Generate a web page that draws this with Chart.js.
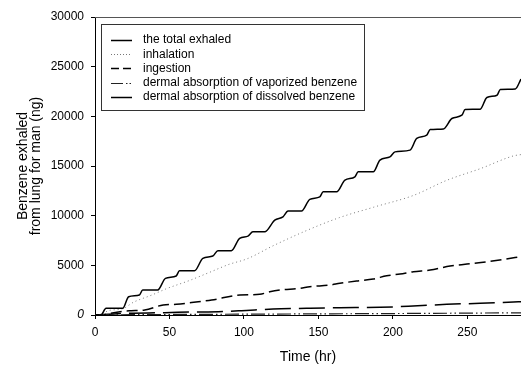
<!DOCTYPE html>
<html>
<head>
<meta charset="utf-8">
<script src="https://cdn.jsdelivr.net/npm/chart.js@4"></script>
<style>
  html, body { margin: 0; padding: 0; background: #fff; }
  #wrap { width: 521px; height: 367px; position: relative; }
</style>
</head>
<body>
<div id="wrap"><canvas id="benzeneChart"></canvas></div>
<script>
// Series data (time in hr, benzene in ng)
const totalTime = [0, 4, 7.4, 18.6, 22.6, 29.8, 32, 42.1, 47.3, 54.5, 56.7, 66.8, 72.4, 79.1, 82.5, 91.5, 97.1, 102.7, 106, 113.9, 120.7, 126.2, 129.6, 138.6, 144.2, 150.9, 153.2, 162.2, 167.8, 174.5, 176.7, 186.8, 191.3, 198, 201.4, 211.5, 216, 222.7, 225, 233.9, 239.6, 246.3, 248.5, 258.6, 263.1, 269.9, 272.1, 282.2, 286];
const totalExhaled = [0, 0, 674, 674, 1840, 2011, 2514, 2514, 3690, 3922, 4455, 4455, 5702, 5934, 6467, 6467, 7714, 7945, 8377, 8377, 9554, 9886, 10459, 10459, 11636, 11897, 12400, 12400, 13577, 13909, 14412, 14412, 15588, 15920, 16423, 16600, 17770, 18100, 18676, 18736, 19782, 20114, 20687, 20717, 21894, 22125, 22698, 22759, 23750];

const inhalationTime = [0, 4, 9, 18, 26, 38, 48, 63, 77, 90, 102, 120, 142, 164, 187, 214, 236, 259, 281, 286];
const inhalation = [0, 0, 450, 600, 1300, 2000, 2650, 3450, 4300, 5100, 5650, 7000, 8500, 9800, 10850, 12050, 13550, 14750, 16020, 16150];

const ingestionTime = [0, 5, 8, 20, 24.4, 33.4, 45.8, 54.7, 69.3, 78.3, 97.3, 110.6, 117.3, 124, 137.5, 144.2, 157.7, 164.4, 175.6, 186.8, 195.8, 204.8, 213.7, 225, 238.4, 249.7, 263.1, 274.3, 286];
const ingestion = [0, 0, 100, 400, 432, 503, 1006, 1076, 1338, 1509, 2011, 2082, 2343, 2514, 2685, 2846, 3017, 3188, 3420, 3620, 3952, 4123, 4355, 4526, 4928, 5129, 5360, 5602, 5880];

const vaporizedTime = [0, 24, 48, 96, 144, 192, 240, 286];
const dermalVaporized = [0, 30, 50, 80, 110, 140, 180, 220];

const dissolvedTime = [0, 8.7, 19.9, 46.8, 64.8, 82.8, 98.5, 119.5, 142, 164.4, 191.3, 213.5, 236.2, 258.6, 281, 286];
const dermalDissolved = [0, 70, 171, 231, 302, 332, 432, 603, 674, 734, 774, 905, 1076, 1177, 1307, 1330];

const seriesLabels = [
  'the total exhaled',
  'inhalation',
  'ingestion',
  'dermal absorption of vaporized benzene',
  'dermal absorption of dissolved benzene'
];

const xTicksStep = 50;
const yTicksStep = 5000;

const FONT = '"Liberation Sans", Arial, Helvetica, sans-serif';

function toPoints(xs, ys) {
  return xs.map((x, i) => ({ x, y: ys[i] }));
}

// Legend drawn inside the plot, with a frame
const boxedLegend = {
  id: 'boxedLegend',
  afterDraw(chart) {
    const ctx = chart.ctx;
    const area = chart.chartArea;
    ctx.save();

    // top frame line
    ctx.strokeStyle = '#555';
    ctx.lineWidth = 1;
    ctx.beginPath();
    ctx.moveTo(area.left, Math.round(area.top) + 0.5);
    ctx.lineTo(area.right, Math.round(area.top) + 0.5);
    ctx.stroke();

    // legend box
    ctx.strokeStyle = '#333';
    ctx.strokeRect(101.5, 24.5, 263, 86);

    ctx.font = '12px ' + FONT;
    ctx.textBaseline = 'middle';
    ctx.fillStyle = '#000';
    chart.data.datasets.forEach((ds, i) => {
      const y = 40 + i * 14.2;
      ctx.save();
      ctx.strokeStyle = ds.borderColor;
      ctx.lineWidth = ds.borderWidth;
      ctx.setLineDash(ds.legendDash || ds.borderDash || []);
      ctx.beginPath();
      ctx.moveTo(111, Math.round(y) + 0.5);
      ctx.lineTo(132, Math.round(y) + 0.5);
      ctx.stroke();
      ctx.restore();
      ctx.fillText(ds.label, 143, y);
    });
    ctx.restore();
  }
};

// Render chart
const ctx = document.getElementById('benzeneChart');

new Chart(ctx, {
  type: 'line',
  data: {
    datasets: [
      {
        label: seriesLabels[0],
        data: toPoints(totalTime, totalExhaled),
        borderColor: '#000',
        borderWidth: 1.5,
        cubicInterpolationMode: 'monotone'
      },
      {
        label: seriesLabels[1],
        data: toPoints(inhalationTime, inhalation),
        borderColor: '#777',
        borderWidth: 1,
        borderDash: [1, 3],
        legendDash: [1, 2],
        cubicInterpolationMode: 'monotone'
      },
      {
        label: seriesLabels[2],
        data: toPoints(ingestionTime, ingestion),
        borderColor: '#000',
        borderWidth: 1.5,
        borderDash: [11, 5],
        legendDash: [8, 4],
        cubicInterpolationMode: 'monotone'
      },
      {
        label: seriesLabels[3],
        data: toPoints(vaporizedTime, dermalVaporized),
        borderColor: '#222',
        borderWidth: 1.2,
        borderDash: [14, 3, 1.5, 3, 1.5, 3],
        legendDash: [12, 3, 1.5, 2, 1.5, 3],
        cubicInterpolationMode: 'monotone'
      },
      {
        label: seriesLabels[4],
        data: toPoints(dissolvedTime, dermalDissolved),
        borderColor: '#000',
        borderWidth: 1.5,
        borderDash: [26, 8],
        legendDash: [],
        cubicInterpolationMode: 'monotone'
      }
    ]
  },
  options: {
    responsive: true,
    maintainAspectRatio: false,
    animation: false,
    layout: { padding: { top: 17, right: 0, left: 0, bottom: 0 } },
    elements: { point: { radius: 0 } },
    plugins: {
      legend: { display: false },
      tooltip: { enabled: false }
    },
    scales: {
      x: {
        type: 'linear',
        min: 0,
        max: 286,
        afterFit(scale) { scale.height = 52; },
        grid: { drawOnChartArea: false, drawTicks: true, tickLength: 4, color: '#000' },
        border: { display: true, color: '#000', width: 1 },
        ticks: {
          stepSize: xTicksStep,
          includeBounds: false,
          padding: 6,
          maxRotation: 0,
          color: '#000',
          font: { size: 12, family: FONT },
          callback: (v) => String(v)
        },
        title: {
          display: true,
          text: 'Time (hr)',
          color: '#000',
          font: { size: 14, family: FONT },
          padding: { top: 0, bottom: 1 }
        }
      },
      y: {
        min: 0,
        max: 30000,
        afterFit(scale) { scale.width = 95; },
        grid: { drawOnChartArea: false, drawTicks: true, tickLength: 4, color: '#000' },
        border: { display: true, color: '#000', width: 1 },
        ticks: {
          stepSize: yTicksStep,
          padding: 7,
          color: '#000',
          callback: (v) => String(v),
          font: (c) => ({
            size: 12,
            family: FONT,
            style: c.tick && c.tick.value === 0 ? 'italic' : 'normal'
          })
        },
        title: {
          display: true,
          text: ['Benzene exhaled', 'from lung for man (ng)'],
          color: '#000',
          font: { size: 14, family: FONT, lineHeight: 0.9 },
          padding: { top: 17, bottom: 0 }
        }
      }
    }
  },
  plugins: [boxedLegend]
});
</script>
</body>
</html>
